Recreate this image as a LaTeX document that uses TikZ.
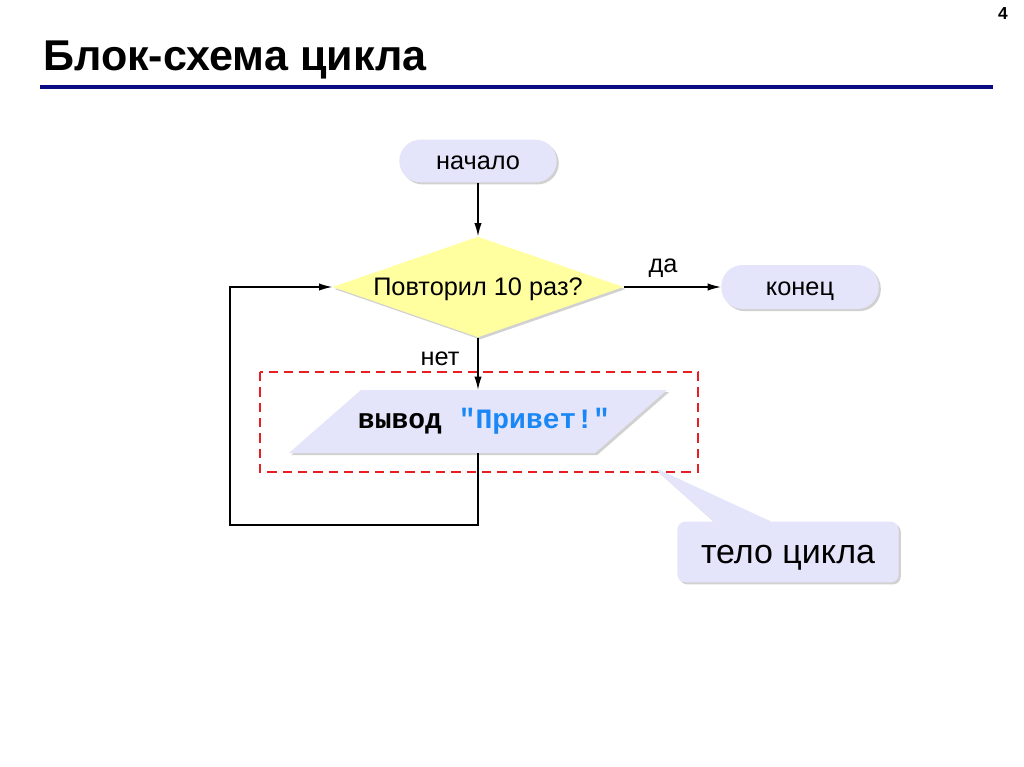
\documentclass[tikz,border=0pt]{standalone}
\usepackage{fontspec}
\setmainfont{Liberation Sans}
\newfontfamily\codefont{Liberation Mono}
\usetikzlibrary{shapes.geometric, shapes.callouts, arrows.meta, shadows, positioning, calc}
\definecolor{termfill}{RGB}{228,228,250}
\definecolor{condfill}{RGB}{255,255,160}
\definecolor{titleline}{RGB}{10,10,130}
\definecolor{codeblue}{RGB}{25,135,245}
\definecolor{bodyred}{RGB}{232,30,35}
\tikzset{
  softshadow/.style={drop shadow={shadow xshift=1.6pt, shadow yshift=-1.6pt, fill=black!45, opacity=.4}},
  pptext/.style={text height=17.1pt, text depth=4pt},
  term/.style={rectangle, rounded corners=16pt, fill=termfill, softshadow, minimum width=118pt, minimum height=32pt, inner sep=0pt, font=\fontsize{19}{22}\selectfont, pptext},
  cond/.style={diamond, aspect=2.89, fill=condfill, softshadow, minimum width=216.75pt, minimum height=75pt, inner sep=0pt, font=\fontsize{19}{22}\selectfont, pptext},
  flow/.style={line width=1.1pt, -{Latex[length=10pt,width=5.5pt]}},
  lbl/.style={inner sep=0pt, font=\fontsize{19}{22}\selectfont, pptext}
}
\begin{document}
\begin{tikzpicture}[x=0.75pt, y=-0.75pt]
		\useasboundingbox (0,0) rectangle (1024,767);
		\fill[white] (0,0) rectangle (1024,767);

		% title
		\node[anchor=base west, inner sep=0pt, font=\bfseries\fontsize{32.3}{38}\selectfont] (title) at (43,71) {Блок-схема цикла};
		\node[inner sep=0pt, font=\bfseries\fontsize{13}{15}\selectfont] (pagenum) at (1003,14) {4};
		\draw[titleline, line width=3pt] (40,87) -- (993,87);

		% blocks
		\path (478,161) node[term] (start) {начало}
		(478,287) node[cond] (cond) {Повторил 10 раз?}
		(800,287) node[term, minimum height=33pt] (stop) {конец};

		\fill[termfill, softshadow] (361,390) coordinate (outtop-l) -- (667,390) -- (595,453) -- (289,453) -- cycle;
		\node[inner sep=0pt, font=\codefont\bfseries\fontsize{21}{24}\selectfont] (out) at (484,421) {вывод \textcolor{codeblue}{"Привет!"}};
		\coordinate (outtop) at (478,390);
		\coordinate (outbot) at (478,453);
		\coordinate (loopcorner) at (230,525);

		\node[lbl] (yes) at (663,264) {да};
		\node[lbl] (no) at (440,357) {нет};

		% loop body
		\draw[bodyred, line width=1.5pt, dash pattern=on 7pt off 4.5pt] (260,372) rectangle (698,472);
		\node[rectangle callout, callout absolute pointer={(653,467)}, callout pointer width=43pt, rounded corners=6pt, fill=termfill, softshadow, minimum width=166pt, minimum height=45.5pt, inner sep=0pt, font=\fontsize{25.5}{30}\selectfont, text height=23pt, text depth=5.4pt] (body) at (788,552) {тело цикла};

		\draw[flow] (start) -- (cond);
		\draw[flow] (cond) -- (stop);
		\draw[flow] (cond) -- (outtop);
		\draw[flow] (outbot) |- (loopcorner) |- (cond.west);
\end{tikzpicture}
\end{document}
